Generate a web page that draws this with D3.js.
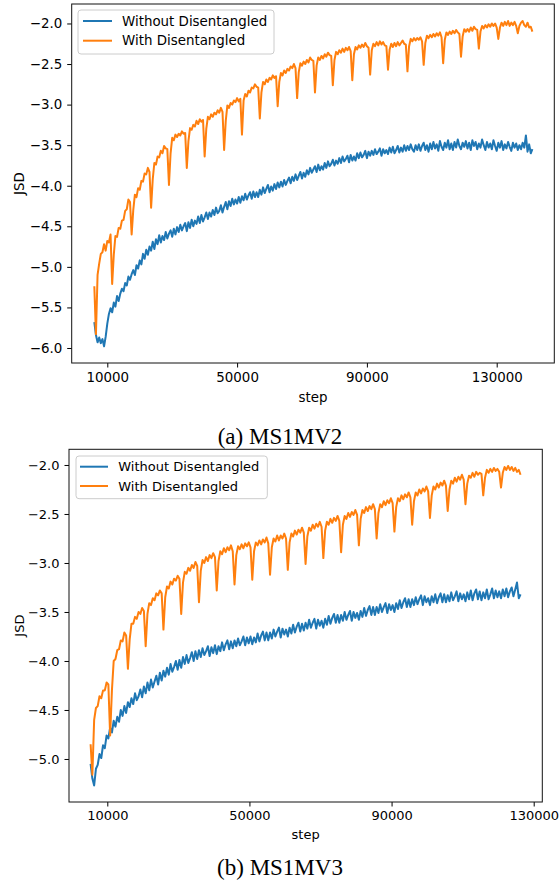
<!DOCTYPE html>
<html>
<head>
<meta charset="utf-8">
<script src="https://cdn.jsdelivr.net/npm/d3@7"></script>
<style>
  body { margin: 0; background: #fff; }
  svg { display: block; }
  .tick text { font-family: "DejaVu Sans", sans-serif; fill: #000; }
</style>
</head>
<body>
<div class="chart"></div>
<script>
// ---- data ----
var seriesNames = ["Without Disentangled", "With Disentangled"];
var xTicks = [10000, 50000, 90000, 130000];

// (a) MS1MV2 : one sample every 500 steps
var stepStartA = 6000, stepEndA = 141000, stepEveryA = 500;
var yTicksA = [-6.0, -5.5, -5.0, -4.5, -4.0, -3.5, -3.0, -2.5, -2.0];
var withoutA = [
  -5.68, -5.84, -5.93, -5.87, -5.94, -5.89, -5.98, -5.86, -5.70, -5.58,
  -5.51, -5.56, -5.44, -5.49, -5.36, -5.42, -5.33, -5.27, -5.30, -5.20,
  -5.23, -5.12, -5.16, -5.09, -5.04, -5.10, -4.98, -5.02, -4.92, -4.97,
  -4.84, -4.90, -4.79, -4.85, -4.75, -4.80, -4.69, -4.78, -4.66, -4.72,
  -4.61, -4.70, -4.62, -4.67, -4.57, -4.65, -4.59, -4.55, -4.63, -4.53,
  -4.60, -4.51, -4.57, -4.48, -4.55, -4.50, -4.46, -4.56, -4.45, -4.52,
  -4.42, -4.50, -4.43, -4.47, -4.38, -4.46, -4.36, -4.44, -4.39, -4.33,
  -4.41, -4.33, -4.38, -4.30, -4.36, -4.27, -4.34, -4.31, -4.24, -4.33,
  -4.26, -4.20, -4.29, -4.19, -4.25, -4.16, -4.23, -4.17, -4.22, -4.14,
  -4.21, -4.13, -4.18, -4.10, -4.17, -4.12, -4.08, -4.16, -4.07, -4.14,
  -4.08, -4.14, -4.05, -4.11, -4.02, -4.09, -4.04, -3.99, -4.08, -4.01,
  -4.06, -3.98, -4.04, -3.96, -4.02, -3.95, -4.01, -3.93, -3.99, -3.94,
  -3.90, -3.97, -3.89, -3.94, -3.86, -3.93, -3.88, -3.83, -3.91, -3.84,
  -3.89, -3.81, -3.86, -3.78, -3.84, -3.80, -3.76, -3.83, -3.74, -3.81,
  -3.76, -3.80, -3.72, -3.78, -3.70, -3.76, -3.73, -3.68, -3.75, -3.69,
  -3.73, -3.66, -3.72, -3.64, -3.70, -3.67, -3.63, -3.71, -3.62, -3.69,
  -3.64, -3.69, -3.60, -3.66, -3.59, -3.65, -3.62, -3.57, -3.66, -3.58,
  -3.63, -3.57, -3.62, -3.55, -3.61, -3.58, -3.54, -3.63, -3.55, -3.60,
  -3.56, -3.61, -3.53, -3.59, -3.52, -3.60, -3.56, -3.51, -3.59, -3.53,
  -3.58, -3.50, -3.57, -3.51, -3.56, -3.49, -3.55, -3.58, -3.50, -3.56,
  -3.49, -3.57, -3.51, -3.47, -3.56, -3.50, -3.58, -3.48, -3.55, -3.46,
  -3.54, -3.49, -3.57, -3.45, -3.52, -3.56, -3.47, -3.53, -3.44, -3.55,
  -3.48, -3.56, -3.46, -3.53, -3.43, -3.51, -3.55, -3.47, -3.52, -3.45,
  -3.54, -3.47, -3.56, -3.44, -3.51, -3.46, -3.55, -3.48, -3.53, -3.43,
  -3.50, -3.56, -3.46, -3.53, -3.48, -3.55, -3.44, -3.51, -3.57, -3.47,
  -3.53, -3.45, -3.56, -3.49, -3.54, -3.46, -3.52, -3.57, -3.47, -3.53,
  -3.48, -3.56, -3.50, -3.55, -3.47, -3.53, -3.38, -3.58, -3.49, -3.60,
  -3.55
];
var withA = [
  -5.24, -5.83, -5.10, -4.96, -4.84, -4.82, -4.72, -4.80, -4.68, -4.70,
  -4.60, -5.21, -4.85, -4.62, -4.63, -4.52, -4.53, -4.43, -4.42, -4.31,
  -4.29, -4.17, -4.20, -4.60, -4.30, -4.11, -4.14, -4.03, -4.05, -3.94,
  -3.95, -3.85, -3.86, -3.78, -3.83, -4.27, -3.92, -3.72, -3.74, -3.64,
  -3.65, -3.57, -3.60, -3.51, -3.54, -3.55, -3.99, -3.60, -3.41, -3.44,
  -3.37, -3.40, -3.36, -3.38, -3.33, -3.36, -3.35, -3.78, -3.45, -3.29,
  -3.31, -3.25, -3.27, -3.20, -3.24, -3.18, -3.21, -3.19, -3.64, -3.30,
  -3.15, -3.18, -3.12, -3.15, -3.10, -3.12, -3.07, -3.10, -3.04, -3.09,
  -3.56, -3.20, -3.01, -3.04, -2.98, -3.00, -2.95, -2.97, -2.92, -2.96,
  -2.93, -3.37, -2.95, -2.87, -2.90, -2.83, -2.85, -2.79, -2.80, -2.75,
  -2.78, -2.79, -3.17, -2.85, -2.72, -2.75, -2.69, -2.72, -2.67, -2.69,
  -2.64, -2.67, -2.65, -3.02, -2.72, -2.61, -2.64, -2.58, -2.61, -2.56,
  -2.58, -2.53, -2.55, -2.50, -2.55, -2.92, -2.60, -2.49, -2.52, -2.47,
  -2.50, -2.45, -2.48, -2.42, -2.45, -2.46, -2.85, -2.52, -2.42, -2.45,
  -2.40, -2.43, -2.38, -2.41, -2.36, -2.39, -2.40, -2.76, -2.45, -2.35,
  -2.38, -2.33, -2.36, -2.31, -2.35, -2.30, -2.33, -2.29, -2.34, -2.70,
  -2.38, -2.29, -2.32, -2.27, -2.30, -2.26, -2.29, -2.24, -2.28, -2.30,
  -2.63, -2.33, -2.25, -2.28, -2.23, -2.27, -2.22, -2.26, -2.23, -2.27,
  -2.28, -2.57, -2.32, -2.25, -2.29, -2.24, -2.28, -2.23, -2.27, -2.24,
  -2.21, -2.25, -2.26, -2.59, -2.28, -2.19, -2.22, -2.18, -2.21, -2.18,
  -2.20, -2.17, -2.22, -2.51, -2.24, -2.15, -2.18, -2.14, -2.17, -2.13,
  -2.16, -2.12, -2.15, -2.11, -2.17, -2.49, -2.20, -2.11, -2.14, -2.10,
  -2.13, -2.09, -2.12, -2.08, -2.11, -2.13, -2.41, -2.16, -2.07, -2.10,
  -2.07, -2.10, -2.05, -2.09, -2.04, -2.07, -2.08, -2.31, -2.10, -2.03,
  -2.06, -2.02, -2.05, -2.01, -2.04, -2.00, -2.03, -2.00, -2.05, -2.19,
  -2.05, -1.99, -2.03, -1.98, -2.02, -1.97, -2.03, -1.99, -2.02, -1.98,
  -2.03, -2.12, -2.03, -1.99, -1.97, -2.02, -2.04, -1.99, -2.05, -2.04,
  -2.10
];

// (b) MS1MV3 : one sample every 500 steps
var stepStartB = 5300, stepEndB = 126300, stepEveryB = 500;
var yTicksB = [-5.0, -4.5, -4.0, -3.5, -3.0, -2.5, -2.0];
var withoutB = [
  -5.05, -5.20, -5.27, -5.10, -5.06, -4.95, -4.99, -4.86, -4.89, -4.76,
  -4.79, -4.68, -4.73, -4.61, -4.67, -4.57, -4.62, -4.50, -4.56, -4.46,
  -4.53, -4.42, -4.47, -4.38, -4.44, -4.33, -4.40, -4.36, -4.29, -4.37,
  -4.26, -4.33, -4.22, -4.30, -4.19, -4.27, -4.21, -4.15, -4.24, -4.12,
  -4.20, -4.10, -4.16, -4.07, -4.14, -4.03, -4.11, -4.06, -4.00, -4.09,
  -3.99, -4.07, -3.96, -4.03, -3.94, -4.02, -3.97, -3.91, -4.00, -3.90,
  -3.98, -3.89, -3.96, -3.87, -3.94, -3.90, -3.85, -3.95, -3.86, -3.92,
  -3.84, -3.93, -3.85, -3.90, -3.81, -3.89, -3.83, -3.79, -3.88, -3.80,
  -3.87, -3.79, -3.85, -3.77, -3.84, -3.80, -3.75, -3.84, -3.76, -3.82,
  -3.75, -3.83, -3.76, -3.81, -3.72, -3.80, -3.74, -3.70, -3.79, -3.71,
  -3.79, -3.71, -3.77, -3.68, -3.75, -3.70, -3.66, -3.76, -3.67, -3.73,
  -3.68, -3.75, -3.66, -3.72, -3.63, -3.71, -3.65, -3.61, -3.70, -3.62,
  -3.69, -3.61, -3.67, -3.58, -3.66, -3.61, -3.57, -3.67, -3.58, -3.64,
  -3.59, -3.66, -3.57, -3.63, -3.54, -3.62, -3.56, -3.52, -3.61, -3.53,
  -3.61, -3.53, -3.59, -3.50, -3.58, -3.53, -3.49, -3.59, -3.50, -3.56,
  -3.51, -3.58, -3.49, -3.55, -3.46, -3.54, -3.48, -3.44, -3.53, -3.45,
  -3.53, -3.45, -3.51, -3.42, -3.50, -3.45, -3.41, -3.51, -3.42, -3.48,
  -3.43, -3.50, -3.41, -3.47, -3.38, -3.46, -3.40, -3.36, -3.45, -3.37,
  -3.45, -3.37, -3.43, -3.35, -3.42, -3.37, -3.33, -3.43, -3.34, -3.40,
  -3.36, -3.43, -3.34, -3.40, -3.32, -3.41, -3.35, -3.31, -3.40, -3.32,
  -3.40, -3.33, -3.39, -3.30, -3.38, -3.34, -3.29, -3.39, -3.31, -3.37,
  -3.32, -3.39, -3.30, -3.37, -3.28, -3.38, -3.31, -3.27, -3.37, -3.29,
  -3.38, -3.30, -3.36, -3.27, -3.37, -3.32, -3.26, -3.36, -3.28, -3.35,
  -3.29, -3.36, -3.27, -3.34, -3.26, -3.35, -3.29, -3.25, -3.34, -3.27,
  -3.20, -3.36, -3.32
];
var withB = [
  -4.85, -5.16, -4.60, -4.48, -4.46, -4.36, -4.38, -4.30, -4.30, -4.22,
  -4.24, -4.76, -4.30, -4.00, -3.98, -3.89, -3.88, -3.79, -3.80, -3.71,
  -3.74, -4.08, -3.78, -3.62, -3.62, -3.55, -3.57, -3.50, -3.52, -3.46,
  -3.49, -3.85, -3.52, -3.41, -3.43, -3.36, -3.38, -3.31, -3.33, -3.28,
  -3.31, -3.68, -3.35, -3.24, -3.26, -3.19, -3.22, -3.16, -3.18, -3.13,
  -3.16, -3.52, -3.20, -3.09, -3.11, -3.05, -3.08, -3.02, -3.05, -2.99,
  -3.03, -3.40, -3.08, -2.97, -3.00, -2.94, -2.98, -2.92, -2.95, -2.90,
  -2.94, -3.28, -2.98, -2.88, -2.91, -2.85, -2.89, -2.84, -2.87, -2.82,
  -2.88, -3.22, -2.92, -2.83, -2.86, -2.81, -2.85, -2.80, -2.83, -2.79,
  -2.84, -3.17, -2.88, -2.79, -2.82, -2.77, -2.81, -2.76, -2.79, -2.74,
  -2.80, -3.12, -2.84, -2.75, -2.78, -2.72, -2.77, -2.72, -2.75, -2.70,
  -2.75, -3.07, -2.79, -2.70, -2.73, -2.67, -2.71, -2.66, -2.69, -2.64,
  -2.69, -3.01, -2.73, -2.64, -2.67, -2.61, -2.65, -2.60, -2.63, -2.58,
  -2.63, -2.95, -2.67, -2.58, -2.61, -2.55, -2.59, -2.54, -2.57, -2.52,
  -2.57, -2.89, -2.61, -2.52, -2.55, -2.49, -2.53, -2.48, -2.51, -2.46,
  -2.51, -2.82, -2.55, -2.46, -2.49, -2.43, -2.47, -2.42, -2.45, -2.40,
  -2.45, -2.75, -2.49, -2.40, -2.43, -2.37, -2.41, -2.36, -2.39, -2.34,
  -2.39, -2.68, -2.43, -2.34, -2.37, -2.31, -2.35, -2.30, -2.33, -2.28,
  -2.33, -2.61, -2.37, -2.28, -2.31, -2.25, -2.29, -2.24, -2.27, -2.22,
  -2.27, -2.54, -2.31, -2.22, -2.25, -2.19, -2.23, -2.18, -2.21, -2.16,
  -2.21, -2.47, -2.25, -2.16, -2.19, -2.13, -2.17, -2.12, -2.15, -2.10,
  -2.15, -2.40, -2.19, -2.11, -2.13, -2.08, -2.12, -2.07, -2.10, -2.08,
  -2.09, -2.31, -2.13, -2.05, -2.08, -2.04, -2.07, -2.03, -2.06, -2.04,
  -2.07, -2.23, -2.08, -2.02, -2.05, -2.01, -2.05, -2.02, -2.06, -2.03,
  -2.07, -2.05, -2.10
];

var colors = ["#1f77b4", "#ff7f0e"];

var svgWidth = 560;
var svgHeight = 884;

var svg = d3.select(".chart")
  .append("svg")
  .attr("width", svgWidth)
  .attr("height", svgHeight);

svg.append("rect")
  .attr("width", svgWidth)
  .attr("height", svgHeight)
  .attr("fill", "#fff");

var panels = [
  {
    box: { left: 71.7, right: 554.3, top: 4, bottom: 363 },
    xLim: [-971, 147750], yLim: [-6.185, -1.760],
    steps: d3.range(stepStartA, stepEndA + 1, stepEveryA),
    series: [withoutA, withA], yTicks: yTicksA,
    font: 13.4, jsdY: 183.5, stepY: 401.5,
    legend: { x: 78, y: 10, w: 196, h: 44, rows: [21, 40.7], line: [83, 112], text: 122 },
    caption: "(a) MS1MV2", captionY: 444
  },
  {
    box: { left: 69, right: 542.3, top: 449.3, bottom: 802 },
    xLim: [-779, 132420], yLim: [-5.439, -1.840],
    steps: d3.range(stepStartB, stepEndB + 1, stepEveryB),
    series: [withoutB, withB], yTicks: yTicksB,
    font: 13, jsdY: 625.6, stepY: 839,
    legend: { x: 76, y: 456, w: 191.3, h: 42.7, rows: [466.7, 486], line: [80, 108], text: 118.3 },
    caption: "(b) MS1MV3", captionY: 875
  }
];

panels.forEach(function(p) {
  var b = p.box;
  var x = d3.scaleLinear().domain(p.xLim).range([b.left, b.right]);
  var y = d3.scaleLinear().domain(p.yLim).range([b.bottom, b.top]);

  var g = svg.append("g");

  var clipId = "clip" + Math.round(b.top);
  g.append("clipPath").attr("id", clipId)
    .append("rect")
    .attr("x", b.left).attr("y", b.top)
    .attr("width", b.right - b.left).attr("height", b.bottom - b.top);

  var line = d3.line()
    .x(function(d, i) { return x(p.steps[i]); })
    .y(function(d) { return y(d); });

  p.series.forEach(function(vals, k) {
    g.append("path")
      .datum(vals)
      .attr("clip-path", "url(#" + clipId + ")")
      .attr("fill", "none")
      .attr("stroke", colors[k])
      .attr("stroke-width", 2)
      .attr("stroke-linejoin", "round")
      .attr("d", line);
  });

  // axes
  var bottomAxis = d3.axisBottom(x)
    .tickValues(xTicks)
    .tickFormat(d3.format("d"))
    .tickSizeInner(4.5).tickSizeOuter(0).tickPadding(4.5);
  var leftAxis = d3.axisLeft(y)
    .tickValues(p.yTicks)
    .tickFormat(d3.format(".1f"))
    .tickSizeInner(4.5).tickSizeOuter(0).tickPadding(5);

  var xg = g.append("g")
    .attr("transform", "translate(0," + b.bottom + ")")
    .call(bottomAxis);
  var yg = g.append("g")
    .attr("transform", "translate(" + b.left + ",0)")
    .call(leftAxis);
  [xg, yg].forEach(function(a) {
    a.select(".domain").remove();
    a.selectAll(".tick line").attr("stroke", "#000").attr("stroke-width", 1);
    a.selectAll(".tick text").style("font-size", p.font + "px");
  });

  g.append("rect")
    .attr("x", b.left).attr("y", b.top)
    .attr("width", b.right - b.left).attr("height", b.bottom - b.top)
    .attr("fill", "none")
    .attr("stroke", "#111")
    .attr("stroke-width", 1);

  // axis labels
  g.append("text")
    .attr("transform", "translate(19," + p.jsdY + ") rotate(-90)")
    .attr("text-anchor", "middle")
    .attr("dominant-baseline", "central")
    .style("font-family", "DejaVu Sans, sans-serif")
    .style("font-size", p.font + "px")
    .text("JSD");

  g.append("text")
    .attr("x", (b.left + b.right) / 2)
    .attr("y", p.stepY)
    .attr("text-anchor", "middle")
    .style("font-family", "DejaVu Sans, sans-serif")
    .style("font-size", p.font + "px")
    .text("step");

  // legend
  var L = p.legend;
  g.append("rect")
    .attr("x", L.x).attr("y", L.y)
    .attr("width", L.w).attr("height", L.h)
    .attr("rx", 3).attr("ry", 3)
    .attr("fill", "#fff").attr("fill-opacity", 0.8)
    .attr("stroke", "#cccccc").attr("stroke-width", 1);

  seriesNames.forEach(function(name, k) {
    g.append("line")
      .attr("x1", L.line[0]).attr("x2", L.line[1])
      .attr("y1", L.rows[k]).attr("y2", L.rows[k])
      .attr("stroke", colors[k]).attr("stroke-width", 2);
    g.append("text")
      .attr("x", L.text).attr("y", L.rows[k])
      .attr("dominant-baseline", "central")
      .style("font-family", "DejaVu Sans, sans-serif")
      .style("font-size", p.font + "px")
      .text(name);
  });

  // caption
  g.append("text")
    .attr("x", 280)
    .attr("y", p.captionY)
    .attr("text-anchor", "middle")
    .style("font-family", "Liberation Serif, serif")
    .style("font-size", "23px")
    .text(p.caption);
});
</script>
</body>
</html>
